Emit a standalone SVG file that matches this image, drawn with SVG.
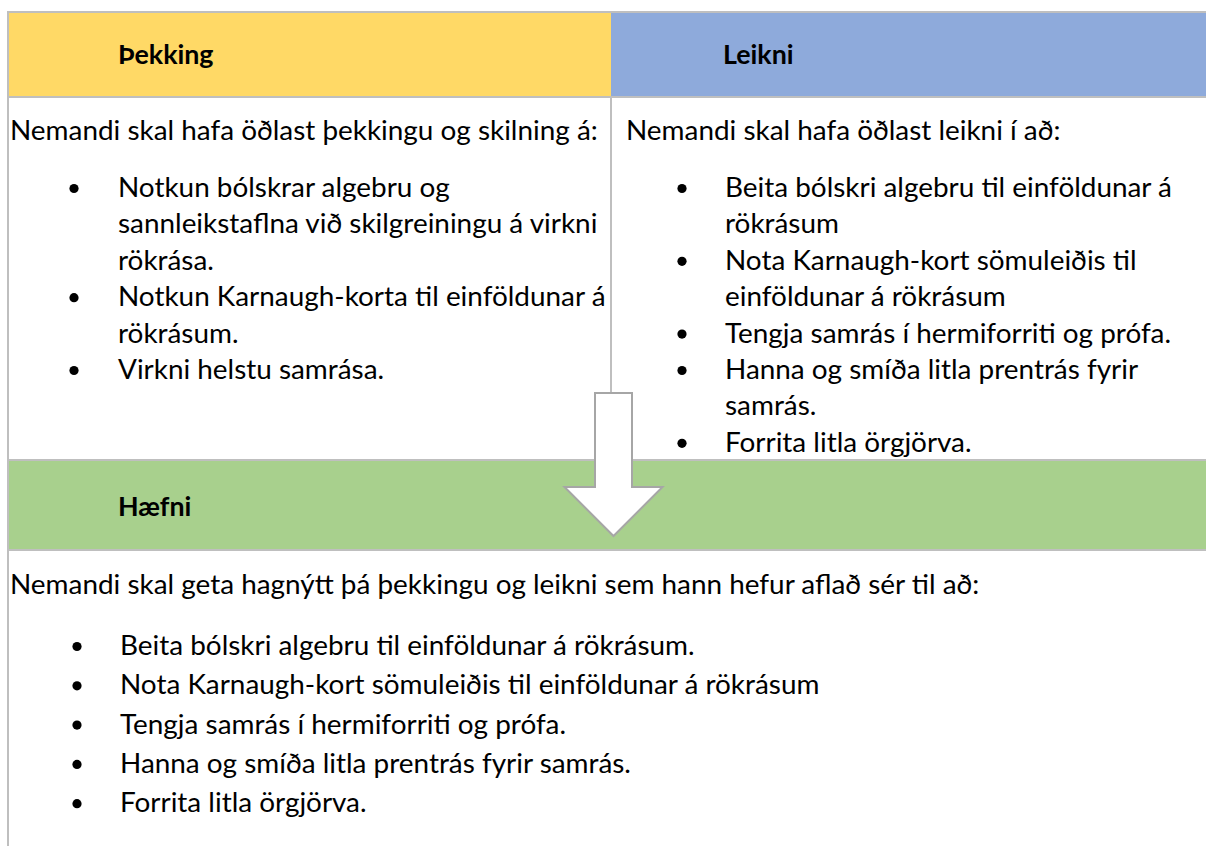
<svg xmlns="http://www.w3.org/2000/svg" width="1206" height="846" viewBox="0 0 1206 846">
<style>
text{font-family:Lato,"Liberation Sans","DejaVu Sans",sans-serif;fill:#000}
.h{font-size:26.8px;font-weight:bold}
.t{font-size:27.9px}
.grid{stroke:#bfbfbf;stroke-width:2;fill:none}
.b{fill:#000}
</style>
<rect width="1206" height="846" fill="#fff"/>
<g id="hdr-thekking"><rect x="8" y="12" width="603" height="85" fill="#ffd966"/><text class="h" x="118" y="64">Þekking</text></g>
<g id="hdr-leikni"><rect x="611" y="12" width="595" height="85" fill="#8eaadb"/><text class="h" x="723" y="64">Leikni</text></g>
<g id="hdr-haefni"><rect x="8" y="460" width="1198" height="90" fill="#a8d08d"/><text class="h" x="118" y="516">Hæfni</text></g>
<g id="grid">
<line class="grid" x1="8" y1="12" x2="1206" y2="12"/>
<line class="grid" x1="8" y1="97" x2="1206" y2="97"/>
<line class="grid" x1="8" y1="460" x2="1206" y2="460"/>
<line class="grid" x1="8" y1="550" x2="1206" y2="550"/>
<line class="grid" x1="8" y1="11" x2="8" y2="846"/>
<line class="grid" x1="611" y1="97" x2="611" y2="400"/>
</g>
<g id="body-thekking">
<text class="t" x="10" y="140">Nemandi skal hafa öðlast þekkingu og skilning á:</text>
<circle class="b" cx="74" cy="188.5" r="4.6"/>
<text class="t" x="118" y="197">Notkun bólskrar algebru og</text>
<text class="t" x="118" y="233.4">sannleikstaflna við skilgreiningu á virkni</text>
<text class="t" x="118" y="269.8">rökrása.</text>
<circle class="b" cx="74" cy="297.7" r="4.6"/>
<text class="t" x="118" y="306.2">Notkun Karnaugh-korta til einföldunar á</text>
<text class="t" x="118" y="342.6">rökrásum.</text>
<circle class="b" cx="74" cy="370.5" r="4.6"/>
<text class="t" x="118" y="379">Virkni helstu samrása.</text>
</g>
<g id="body-leikni">
<text class="t" x="626" y="140">Nemandi skal hafa öðlast leikni í að:</text>
<circle class="b" cx="682" cy="188.5" r="4.6"/>
<text class="t" x="725" y="197">Beita bólskri algebru til einföldunar á</text>
<text class="t" x="725" y="233.4">rökrásum</text>
<circle class="b" cx="682" cy="261.3" r="4.6"/>
<text class="t" x="725" y="269.8">Nota Karnaugh-kort sömuleiðis til</text>
<text class="t" x="725" y="306.2">einföldunar á rökrásum</text>
<circle class="b" cx="682" cy="334.1" r="4.6"/>
<text class="t" x="725" y="342.6">Tengja samrás í hermiforriti og prófa.</text>
<circle class="b" cx="682" cy="370.5" r="4.6"/>
<text class="t" x="725" y="379">Hanna og smíða litla prentrás fyrir</text>
<text class="t" x="725" y="415.4">samrás.</text>
<circle class="b" cx="682" cy="443.3" r="4.6"/>
<text class="t" x="725" y="451.8">Forrita litla örgjörva.</text>
</g>
<g id="body-haefni">
<text class="t" x="10" y="594">Nemandi skal geta hagnýtt þá þekkingu og leikni sem hann hefur aflað sér til að:</text>
<circle class="b" cx="77" cy="646.5" r="4.6"/>
<text class="t" x="120" y="655">Beita bólskri algebru til einföldunar á rökrásum.</text>
<circle class="b" cx="77" cy="685.8" r="4.6"/>
<text class="t" x="120" y="694.3">Nota Karnaugh-kort sömuleiðis til einföldunar á rökrásum</text>
<circle class="b" cx="77" cy="725.1" r="4.6"/>
<text class="t" x="120" y="733.6">Tengja samrás í hermiforriti og prófa.</text>
<circle class="b" cx="77" cy="764.4" r="4.6"/>
<text class="t" x="120" y="772.9">Hanna og smíða litla prentrás fyrir samrás.</text>
<circle class="b" cx="77" cy="803.7" r="4.6"/>
<text class="t" x="120" y="812.2">Forrita litla örgjörva.</text>
</g>
<g id="connectors">
<path id="arrow-down" d="M595,393 L632,393 L632,487 L662.5,487 L613.5,536 L564.5,487 L595,487 Z" fill="#fff" stroke="#a6a6a6" stroke-width="2" stroke-linejoin="miter"/>
</g>
</svg>
